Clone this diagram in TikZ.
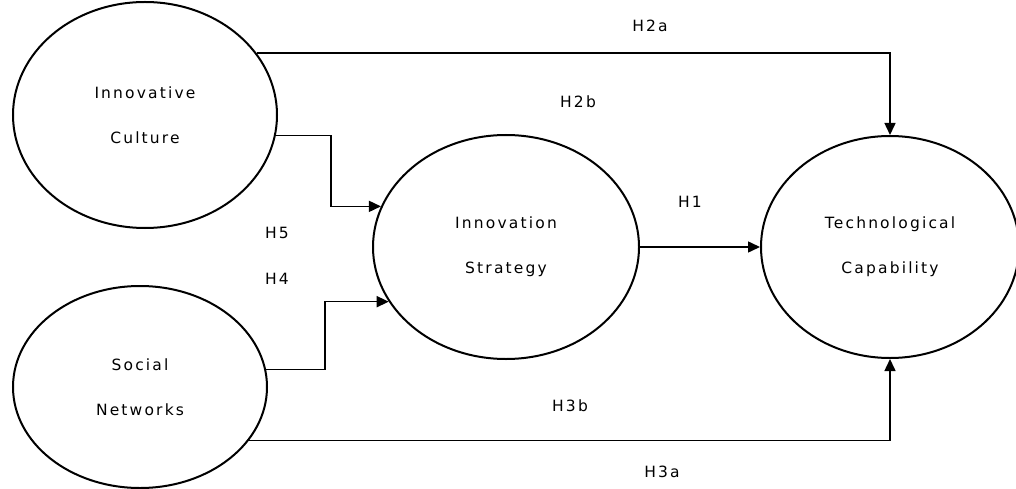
\documentclass[tikz,border=0pt]{standalone}
\usepackage{fontspec}
\setmainfont{DejaVu Sans}[LetterSpace=14]
\usetikzlibrary{shapes.geometric,arrows.meta}

\begin{document}
\begin{tikzpicture}[x=1pt, y=-1pt,
		construct/.style={ellipse, draw, line width=2pt, inner sep=0pt, align=center, font=\fontsize{15.5}{45}\selectfont},
		path/.style={line width=1.5pt, -{Triangle[length=12pt, width=11pt]}},
		hyp/.style={font=\fontsize{15.5}{17}\selectfont}]
		\useasboundingbox (0,0) rectangle (1016,489);
		
		% Constructs
		\node[construct, minimum width=264pt, minimum height=226pt] (ic) at (145,115) {Innovative\\Culture};
		\node[construct, minimum width=254pt, minimum height=202pt] (sn) at (140,387) {Social\\Networks};
		\node[construct, minimum width=266pt, minimum height=224pt] (is) at (506,247) {Innovation\\Strategy};
		\node[construct, minimum width=258pt, minimum height=222pt] (tc) at (890,247) {Technological\\Capability};
		
		% Hypotheses
		\node[hyp] (h2a) at (650,26) {H2a};
		\node[hyp] (h2b) at (578,102) {H2b};
		\node[hyp] (h1) at (690,202) {H1};
		\node[hyp] (h5) at (277,233) {H5};
		\node[hyp] (h4) at (277,279) {H4};
		\node[hyp] (h3b) at (570,406) {H3b};
		\node[hyp] (h3a) at (662,472) {H3a};
		
		% Paths
		\draw[path] (ic.29) -| (tc.north);
		\draw[path] (ic.-9) -- ++(55,0) |- (is.162);
		\draw[path] (sn.8) -- ++(59,0) |- (is.205);
		\draw[path] (is.east) -- (tc.west);
		\draw[path] (sn.-26) -| (tc.south);
	\end{tikzpicture}
\end{document}
